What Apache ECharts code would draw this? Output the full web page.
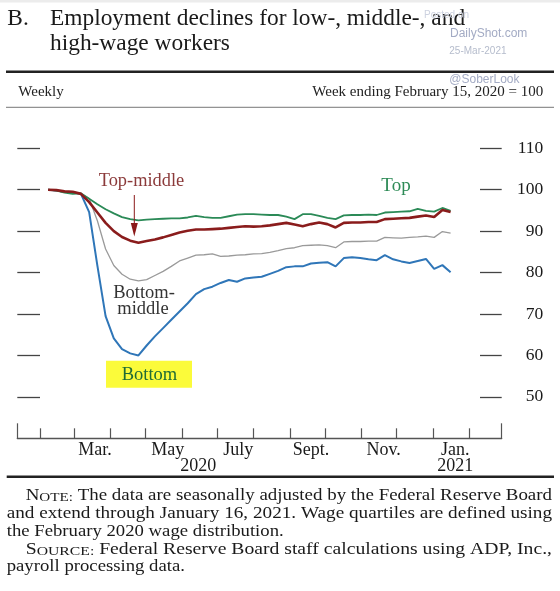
<!DOCTYPE html>
<html><head><meta charset="utf-8">
<script src="https://cdn.jsdelivr.net/npm/echarts@6/dist/echarts.min.js"></script>
<style>html,body{margin:0;padding:0;background:#fff}#c{width:560px;height:591px}</style>
</head><body><div id="c"></div>
<script>
// ---------- data ----------
const weeks = ['2020-02-08','2020-02-15','2020-02-22','2020-02-29','2020-03-07','2020-03-14','2020-03-21','2020-03-28',
 '2020-04-04','2020-04-11','2020-04-18','2020-04-25','2020-05-02','2020-05-09','2020-05-16','2020-05-23','2020-05-30',
 '2020-06-06','2020-06-13','2020-06-20','2020-06-27','2020-07-04','2020-07-11','2020-07-18','2020-07-25',
 '2020-08-01','2020-08-08','2020-08-15','2020-08-22','2020-08-29','2020-09-05','2020-09-12','2020-09-19','2020-09-26',
 '2020-10-03','2020-10-10','2020-10-17','2020-10-24','2020-10-31','2020-11-07','2020-11-14','2020-11-21','2020-11-28',
 '2020-12-05','2020-12-12','2020-12-19','2020-12-26','2021-01-02','2021-01-09','2021-01-16'];
const topWage = [100,99.8,99.3,99.0,99.1,97.8,96.5,95.3,94.3,93.4,92.9,92.6,92.8,92.9,93.0,93.1,93.1,93.3,93.7,93.4,
 93.2,93.2,93.6,94.0,94.1,94.1,94.0,93.9,93.9,93.5,92.9,94.1,94.1,93.7,93.2,92.9,93.8,93.9,93.9,94.0,
 93.9,94.5,94.6,94.7,94.8,95.4,94.9,94.7,95.6,94.9];
const topMiddle = [100,99.9,99.6,99.5,99.0,97.0,94.5,92.0,90.0,88.6,87.7,87.2,87.6,88.0,88.5,89.1,89.7,90.1,90.4,90.4,
 90.5,90.6,90.8,91.0,91.2,91.1,91.2,91.4,91.7,92.0,91.6,91.2,91.7,92.1,91.7,90.9,92.0,92.1,92.1,92.2,
 92.2,92.9,93.0,93.1,93.2,93.5,93.8,93.4,95.1,94.6];
const bottomMiddle = [100,99.9,99.6,99.3,99.2,97.9,92.5,85.7,81.7,79.6,78.4,78.0,78.3,79.3,80.3,81.5,82.8,83.5,84.2,84.3,
 84.5,83.9,84.0,84.2,84.3,84.5,84.6,84.9,85.3,85.8,86.0,86.5,86.6,86.7,86.5,86.0,87.4,87.5,87.5,87.6,
 87.6,88.5,88.4,88.3,88.5,88.6,88.8,88.5,89.9,89.5];
const bottomWage = [100,99.8,99.5,99.3,99.0,94.6,81.7,69.5,64.1,61.5,60.5,60.0,62.4,64.6,66.6,68.6,70.6,72.6,74.8,76.0,
 76.6,77.5,78.2,77.8,78.6,78.8,79.0,79.7,80.4,81.3,81.5,81.5,82.2,82.4,82.5,81.5,83.5,83.7,83.5,83.2,
 83.0,84.2,83.2,82.7,82.3,82.8,83.3,80.9,81.8,80.1];
const monthTicks = ['2020-02-01','2020-03-01','2020-04-01','2020-05-01','2020-06-01','2020-07-01','2020-08-01',
 '2020-09-01','2020-10-01','2020-11-01','2020-12-01','2021-01-01','2021-02-01'];
const monthLabels = ['Mar.','May','July','Sept.','Nov.','Jan.'];
const monthLabelDates = ['2020-03-19','2020-05-20','2020-07-19','2020-09-19','2020-11-20','2021-01-20'];
const yearLabels = ['2020','2021'];
const yearLabelDates = ['2020-06-15','2021-01-20'];
const yTicks = [50,60,70,80,90,100,110];

// ---------- helpers ----------
const DAY = 86400000;
const ms = s => Date.parse(s);
const X0 = Date.UTC(2020,0,1);
const xMin = X0 + 11.76*DAY, xMax = X0 + 424.55*DAY;
const SERIF = '"Liberation Serif","Times New Roman",serif';
const SANS = '"Liberation Sans",Arial,sans-serif';
const lblMap = {}; monthLabelDates.forEach((d,i)=>lblMap[ms(d)] = monthLabels[i]);
const yrMap = {}; yearLabelDates.forEach((d,i)=>yrMap[ms(d)] = yearLabels[i]);
const pts = arr => weeks.map((w,i)=>[ms(w), arr[i]]);

const ctx = document.createElement('canvas').getContext('2d');
function mw(t, s){ ctx.font = s + 'px "Liberation Serif"'; return ctx.measureText(t).width; }

function T(text, x, y, size, color, align, family, extra){
  return Object.assign({type:'text', x:x, y:y, z:100, style:{text:text, font: size+'px '+(family||SERIF), fill:color,
    textAlign:align||'left', align:align||'left', textVerticalAlign:'middle', verticalAlign:'middle'}}, extra||{});
}
function L(x1,y1,x2,y2,w,c){ return {type:'line', z:50, shape:{x1,y1,x2,y2}, style:{stroke:c, lineWidth:w}}; }

// notes
const NB = 16.5, NS = 13.2;
const noteLines = [
 {parts:[['N','b'],['OTE:','s'],[' The data are seasonally adjusted by the Federal Reserve Board','b']], x:25.7, y:496, right:552},
 {parts:[['and extend through January 16, 2021. Wage quartiles are defined using','b']], x:6.7, y:514, right:552},
 {parts:[['the February 2020 wage distribution.','b']], x:6.7, y:531.7},
 {parts:[['S','b'],['OURCE:','s'],[' Federal Reserve Board staff calculations using ADP, Inc.,','b']], x:25.7, y:549.3, right:552},
 {parts:[['payroll processing data.','b']], x:6.7, y:566.7}
];
noteLines.forEach(l=>{ l.w = l.parts.reduce((a,p)=>a + mw(p[0], p[1]==='b'?NB:NS), 0); });
const refScale = 0.975*(noteLines[1].right - noteLines[1].x)/noteLines[1].w;
const noteEls = noteLines.map(l=>{
  const sc = l.right ? (l.right - l.x)/l.w : refScale;
  return {type:'text', x:l.x, y:l.y, scaleX:sc, z:100, style:{
    text: l.parts.map(p=>'{'+p[1]+'|'+p[0]+'}').join(''),
    textAlign:'left', align:'left', textVerticalAlign:'middle', verticalAlign:'middle',
    rich:{ b:{font:NB+'px '+SERIF, fill:'#1a1a1a', verticalAlign:'bottom'}, s:{font:NS+'px '+SERIF, fill:'#1a1a1a', verticalAlign:'bottom'} }
  }};
});

const graphics = [
  {type:'rect', shape:{x:0,y:0,width:560,height:2.5}, style:{fill:'#ececec'}, z:40},
  T('B.', 7.3, 19.3, 23.4, '#1a1a1a'),
  T('Employment declines for low-, middle-, and', 50, 19.3, 23.4, '#1a1a1a'),
  T('high-wage workers', 50, 44.3, 23.4, '#1a1a1a'),
  L(6, 71.7, 554, 71.7, 2.5, '#222'),
  T('Weekly', 18.3, 91.7, 15, '#222'),
  T('Week ending February 15, 2020 = 100', 543.3, 91.7, 15, '#222', 'right'),
  L(6, 107.3, 554, 107.3, 1, '#777'),
  L(6.7, 476.7, 554, 476.7, 2.5, '#222'),
  // annotations
  T('Top-middle', 141.5, 180.7, 18.4, '#8b3a3a', 'center'),
  L(134.3, 195, 134.3, 225, 1, '#8b1a1a'),
  {type:'polygon', z:60, shape:{points:[[130.8,223],[137.8,223],[134.3,236.5]]}, style:{fill:'#8b1a1a'}},
  T('Top', 396, 186, 19, '#2e8b57', 'center'),
  T('Bottom-', 144, 292.7, 18.5, '#333', 'center'),
  T('middle', 143, 309.3, 18.5, '#333', 'center'),
  {type:'rect', z:60, shape:{x:106,y:360.7,width:86,height:27}, style:{fill:'#fbfb3a'}},
  T('Bottom', 149.5, 375, 18.5, '#1f6b35', 'center'),
  // watermark
  T('Posted on', 424, 15.7, 10, '#cdd2e0', 'left', SANS, {z:120}),
  T('DailyShot.com', 450, 33.3, 12, '#a3abc4', 'left', SANS, {z:120}),
  T('25-Mar-2021', 449.3, 51, 10, '#b5bccc', 'left', SANS, {z:120}),
  T('@SoberLook', 449.3, 79.3, 12, '#a3abc4', 'left', SANS, {z:120})
].concat(noteEls);

const chart = echarts.init(document.getElementById('c'), null, {renderer:'canvas'});
chart.setOption({
  animation:false,
  backgroundColor:'#fff',
  grid:{left:17.3, right:58.3, top:148.3, bottom:152.7},
  xAxis:[
    {type:'value', min:xMin, max:xMax, position:'bottom',
     axisLine:{show:true, lineStyle:{color:'#555', width:1.3}},
     axisTick:{show:true, inside:true, length:10, customValues:monthTicks.map(ms), lineStyle:{color:'#555', width:1.2}},
     axisLabel:{customValues:monthLabelDates.map(ms), formatter:v=>lblMap[v]||'', margin:2.7, fontSize:18, lineHeight:18,
       fontFamily:SERIF, color:'#1a1a1a'},
     splitLine:{show:false}},
    {type:'value', min:xMin, max:xMax, position:'bottom',
     axisLine:{show:false},
     axisTick:{show:true, inside:true, length:15, customValues:[xMin, xMax], lineStyle:{color:'#555', width:1.2}},
     axisLabel:{customValues:yearLabelDates.map(ms), formatter:v=>yrMap[v]||'', margin:19.4, fontSize:18, lineHeight:18,
       fontFamily:SERIF, color:'#1a1a1a'},
     splitLine:{show:false}}
  ],
  yAxis:[
    {type:'value', min:40, max:110, position:'left',
     axisLine:{show:false},
     axisTick:{show:true, inside:true, length:22.7, customValues:yTicks, lineStyle:{color:'#444', width:1.3}},
     axisLabel:{show:false}, splitLine:{show:false}},
    {type:'value', min:40, max:110, position:'right',
     axisLine:{show:false},
     axisTick:{show:true, inside:true, length:21.7, customValues:yTicks, lineStyle:{color:'#444', width:1.3}},
     axisLabel:{customValues:yTicks, align:'right', margin:41.6, fontSize:17.5, fontFamily:SERIF, color:'#1a1a1a'},
     splitLine:{show:false}}
  ],
  series:[
    {name:'Bottom-middle', type:'line', data:pts(bottomMiddle), showSymbol:false, symbol:'none', z:2,
     lineStyle:{color:'#9a9a9a', width:1.3}},
    {name:'Bottom', type:'line', data:pts(bottomWage), showSymbol:false, symbol:'none', z:3,
     lineStyle:{color:'#2f76b8', width:2}},
    {name:'Top', type:'line', data:pts(topWage), showSymbol:false, symbol:'none', z:4,
     lineStyle:{color:'#2b8a57', width:1.8}},
    {name:'Top-middle', type:'line', data:pts(topMiddle), showSymbol:false, symbol:'none', z:5,
     lineStyle:{color:'#8a1c1c', width:2.6}}
  ],
  graphic:graphics
});
</script></body></html>
